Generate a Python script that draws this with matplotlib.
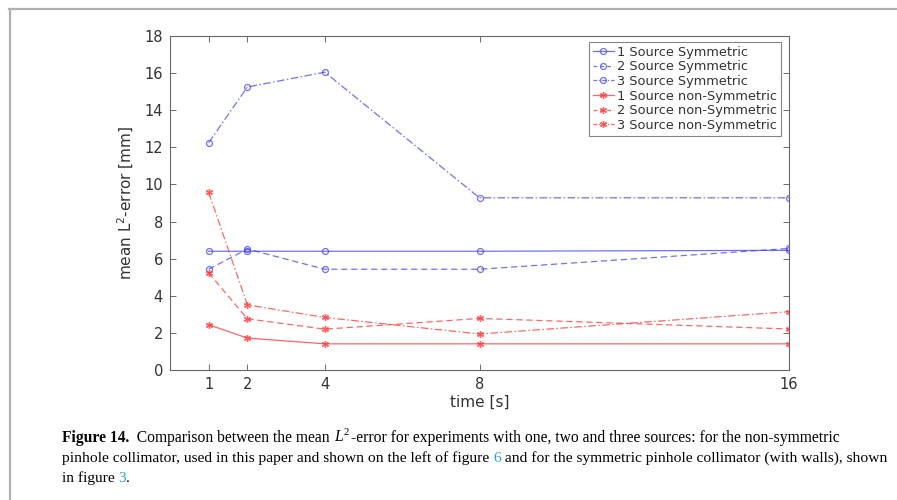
import matplotlib
matplotlib.use("Agg")
import matplotlib.pyplot as plt
from matplotlib.lines import Line2D

plt.rcParams["mathtext.fontset"] = "custom"
plt.rcParams["mathtext.rm"] = "Liberation Serif"
plt.rcParams["mathtext.it"] = "Liberation Serif:italic"

# ---- data ----
times = [1, 2, 4, 8, 16]
sym_1 = [6.40, 6.40, 6.40, 6.40, 6.45]
sym_2 = [5.43, 6.52, 5.43, 5.43, 6.55]
sym_3 = [12.25, 15.25, 16.05, 9.28, 9.28]
non_1 = [2.44, 1.72, 1.41, 1.41, 1.41]
non_2 = [5.23, 2.76, 2.20, 2.78, 2.21]
non_3 = [9.57, 3.51, 2.83, 1.94, 3.14]
labels = ["1 Source Symmetric", "2 Source Symmetric", "3 Source Symmetric",
          "1 Source non-Symmetric", "2 Source non-Symmetric", "3 Source non-Symmetric"]
xticks = [1, 2, 4, 8, 16]
yticks = list(range(0, 19, 2))

W, H = 897, 500
fig = plt.figure(figsize=(W / 100, H / 100), dpi=100)
fig.patch.set_facecolor("white")

ax = fig.add_axes([170 / W, 1 - 370 / H, (789 - 170) / W, (370 - 36) / H])

blue = (0.25, 0.25, 1.0)
red = (1.0, 0.2, 0.2)
ast = (6, 2, 0)
dash = (0, (5, 3))
dashdot = (0, (6, 2, 1.2, 2))
series = [
    (sym_1, blue, "-", "o"),
    (sym_2, blue, dash, "o"),
    (sym_3, blue, dashdot, "o"),
    (non_1, red, "-", ast),
    (non_2, red, dash, ast),
    (non_3, red, dashdot, ast),
]
for (vals, col, ls, mk), lab in zip(series, labels):
    if mk == "o":
        ax.plot(times, vals, color=col, ls=ls, lw=0.9, alpha=0.75, marker="o",
                ms=4.3, mfc="none", mec=col, mew=0.9, label=lab)
    else:
        ax.plot(times, vals, color=col, ls=ls, lw=0.9, alpha=0.75, marker=ast,
                ms=5, mfc=col, mec=col, mew=1.0, label=lab)

ax.set_xlim(0, 16)
ax.set_ylim(0, 18)
ax.set_xticks(xticks)
ax.set_yticks(yticks)
tc = "#333333"
ax.tick_params(direction="in", top=True, right=True, length=4, width=0.6,
               colors="#555555", labelcolor=tc, labelsize=10.5, pad=5)
for s in ax.spines.values():
    s.set_color("#666666")
    s.set_linewidth(0.8)
ax.set_xlabel("time [s]", fontsize=11, color=tc, labelpad=2)
ax.set_ylabel("mean L$^2$-error [mm]", fontsize=11, color=tc, labelpad=6,
              math_fontfamily="dejavusans")

leg = ax.legend(loc="upper right", bbox_to_anchor=(781 / W, 1 - 42 / H),
                bbox_transform=fig.transFigure, fontsize=9.3, frameon=True,
                fancybox=False, borderpad=0.28, labelspacing=0.13,
                handlelength=1.6, handletextpad=0.3, borderaxespad=0)
leg.get_frame().set_edgecolor("#666666")
leg.get_frame().set_linewidth(0.8)
for t in leg.get_texts():
    t.set_color(tc)
for h, (vals, col, ls, mk) in zip(leg.legend_handles, series):
    if ls == dash:
        h.set_linestyle((0, (3, 2.5)))
    elif ls == dashdot:
        h.set_linestyle((0, (3, 1.5, 1, 1.5)))

# page frame lines
fig.add_artist(Line2D([9 / W, 1], [1 - 9 / H, 1 - 9 / H], transform=fig.transFigure,
                      color="#b0b0b0", lw=1.6))
fig.add_artist(Line2D([10 / W, 10 / W], [0, 1 - 9 / H], transform=fig.transFigure,
                      color="#b0b0b0", lw=1.6))

# caption
fig.canvas.draw()
renderer = fig.canvas.get_renderer()
cap_fs = 11.1
serif = "Liberation Serif"
linkc = "#2a9fd6"
lines = [
    [("Figure 14.", "bold", "black"),
     ("  Comparison between the mean ", "normal", "black"),
     ("$L^2$", "normal", "black"),
     ("-error for experiments with one, two and three sources: for the non-symmetric", "normal", "black")],
    [("pinhole collimator, used in this paper and shown on the left of figure ", "normal", "black"),
     ("6", "normal", linkc),
     (" and for the symmetric pinhole collimator (with walls), shown", "normal", "black")],
    [("in figure ", "normal", "black"), ("3", "normal", linkc), (".", "normal", "black")],
]
targets = [842, 884, None]
baselines = [442, 462, 482]


def draw_line(pieces, yb, fs):
    x = 62 / W
    arts = []
    for txt, wt, col in pieces:
        t = fig.text(x, 1 - yb / H, txt, fontsize=fs, family=serif,
                     weight=wt, color=col, va="baseline", ha="left")
        bb = t.get_window_extent(renderer)
        x += bb.width / W
        arts.append(t)
    return arts, x * W


for pieces, yb, tgt in zip(lines, baselines, targets):
    fs = cap_fs
    if tgt is not None:
        for _ in range(3):
            arts, end = draw_line(pieces, yb, fs)
            for a in arts:
                a.remove()
            fs = fs * (tgt - 62) / (end - 62)
    draw_line(pieces, yb, fs)

fig.savefig("out.png", dpi=100)
